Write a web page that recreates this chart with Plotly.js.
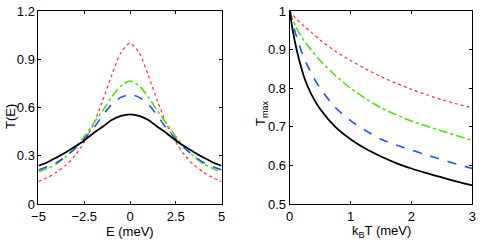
<!DOCTYPE html>
<html>
<head>
<meta charset="utf-8">
<script src="https://cdn.plot.ly/plotly-3.0.1.min.js"></script>
<style>html,body{margin:0;padding:0;background:#fff;}#chart{width:480px;height:245px;}</style>
</head>
<body>
<div id="chart"></div>
<script>
// Left panel: T(E) vs E (meV)
var energy = [-5,-4.5,-4,-3.5,-3,-2.5,-2,-1.5,-1,-0.5,0,0.5,1,1.5,2,2.5,3,3.5,4,4.5,5];
var tRed   = [0.139,0.165,0.199,0.242,0.302,0.385,0.495,0.64,0.80,0.94,1.0,0.94,0.80,0.64,0.495,0.385,0.302,0.242,0.199,0.165,0.139];
var tGreen = [0.20,0.222,0.25,0.295,0.35,0.42,0.50,0.58,0.665,0.735,0.765,0.735,0.665,0.58,0.50,0.42,0.35,0.295,0.25,0.222,0.20];
var tBlue  = [0.212,0.233,0.258,0.298,0.345,0.405,0.47,0.55,0.62,0.663,0.68,0.663,0.62,0.55,0.47,0.405,0.345,0.298,0.258,0.233,0.212];
var tBlack = [0.238,0.26,0.29,0.322,0.357,0.395,0.44,0.48,0.522,0.548,0.558,0.548,0.522,0.48,0.44,0.395,0.357,0.322,0.29,0.26,0.238];

// Right panel: Tmax vs kBT (meV)
var kT      = [0,0.05,0.1,0.15,0.2,0.25,0.35,0.5,0.75,1,1.25,1.5,1.75,2,2.25,2.5,2.75,3];
var mRed    = [1.0,0.99,0.981,0.973,0.966,0.959,0.946,0.925,0.896,0.872,0.85,0.83,0.813,0.797,0.783,0.770,0.759,0.749];
var mGreen  = [1.0,0.978,0.96,0.945,0.932,0.92,0.9,0.872,0.833,0.80,0.773,0.749,0.731,0.715,0.702,0.689,0.677,0.665];
var mBlue   = [1.0,0.968,0.94,0.915,0.893,0.873,0.84,0.80,0.75,0.716,0.69,0.668,0.653,0.64,0.627,0.615,0.603,0.592];
var mBlack  = [1.0,0.95,0.91,0.877,0.848,0.823,0.786,0.746,0.70,0.668,0.643,0.623,0.606,0.592,0.58,0.569,0.558,0.548];

var xTicks1 = [-5,-2.5,0,2.5,5];
var xTickText1 = ['\u22125','\u22122.5','0','2.5','5'];
var yTicks1 = [0,0.3,0.6,0.9,1.2];
var yTickText1 = ['0','0.3','0.6','0.9','1.2'];
var xTicks2 = [0,1,2,3];
var yTicks2 = [0.5,0.6,0.7,0.8,0.9,1];
var yTickText2 = ['0.5','0.6','0.7','0.8','0.9','1'];

var styles = {
  red:   {color:'#ff3030', width:1.2, dash:'dot'},
  green: {color:'#55e010', width:1.6, dash:'dashdot'},
  blue:  {color:'#1f4dff', width:1.6, dash:'dash'},
  black: {color:'#000000', width:1.8, dash:'solid'}
};
function tr(x, y, st, xa, ya) {
  return {x:x, y:y, type:'scatter', mode:'lines', xaxis:xa, yaxis:ya,
    line:{color:st.color, width:st.width, dash:st.dash, shape:'spline', smoothing:0.7},
    hoverinfo:'skip', showlegend:false};
}
var data = [
  tr(energy, tRed, styles.red, 'x', 'y'),
  tr(energy, tGreen, styles.green, 'x', 'y'),
  tr(energy, tBlue, styles.blue, 'x', 'y'),
  tr(energy, tBlack, styles.black, 'x', 'y'),
  tr(kT, mRed, styles.red, 'x2', 'y2'),
  tr(kT, mGreen, styles.green, 'x2', 'y2'),
  tr(kT, mBlue, styles.blue, 'x2', 'y2'),
  tr(kT, mBlack, styles.black, 'x2', 'y2')
];
var font = {family:'"Liberation Sans", Arial, sans-serif', size:13, color:'#000'};
function ax(extra) {
  var a = {showline:true, linecolor:'#000', linewidth:1, mirror:'allticks', ticks:'inside',
    ticklen:3, tickcolor:'#000', tickwidth:1, showgrid:false, zeroline:false,
    tickfont:font, fixedrange:true};
  for (var k in extra) a[k] = extra[k];
  return a;
}
var W = 480, H = 245;
function ann(text, px, py, rot) {
  return {text:text, xref:'paper', yref:'paper', x:px / W, y:1 - py / H,
    xanchor:'center', yanchor:'middle', showarrow:false, textangle:rot || 0, font:font};
}
var layout = {
  width:W, height:H, margin:{l:0,r:0,t:0,b:0},
  paper_bgcolor:'#fff', plot_bgcolor:'#fff', font:font,
  xaxis: ax({domain:[0.0802,0.4615], range:[-5,5], anchor:'y', tickvals:xTicks1, ticktext:xTickText1}),
  yaxis: ax({domain:[0.1673,0.955], range:[0,1.2], anchor:'x', tickvals:yTicks1, ticktext:yTickText1}),
  xaxis2: ax({domain:[0.6035,0.984], range:[0,3], anchor:'y2', tickvals:xTicks2}),
  yaxis2: ax({domain:[0.1673,0.955], range:[0.5,1], anchor:'x2', tickvals:yTicks2, ticktext:yTickText2}),
  annotations: [
    ann('E (meV)', 130, 231, 0),
    ann('T(E)', 11, 117, -90),
    ann('k<sub>B</sub>T (meV)', 381, 231, 0),
    ann('T<sub>max</sub>', 261, 113, -90)
  ]
};
Plotly.newPlot('chart', data, layout, {staticPlot:true, displayModeBar:false});
</script>
</body>
</html>
